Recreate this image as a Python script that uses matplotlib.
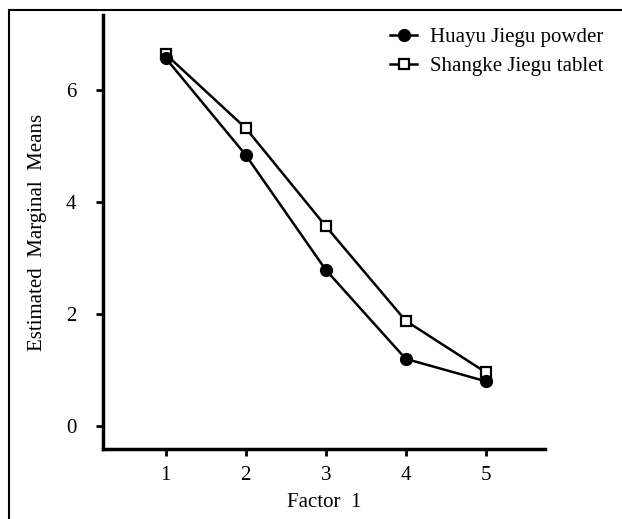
import matplotlib
matplotlib.use('Agg')
import matplotlib.pyplot as plt
from matplotlib.lines import Line2D

plt.rcParams['font.family'] = ['Liberation Serif', 'DejaVu Serif']

factor = [1, 2, 3, 4, 5]
huayu = [6.57, 4.84, 2.79, 1.20, 0.80]
shangke = [6.64, 5.32, 3.57, 1.88, 0.96]

fig = plt.figure(figsize=(6.22, 5.19), dpi=100)
ax = fig.add_axes([0.1656, 0.1349, 0.7104, 0.836])

ax.plot(factor, shangke, color='black', lw=1.8, marker='s', ms=7,
        mfc='white', mec='black', mew=1.6, label='Shangke Jiegu tablet', zorder=2)
ax.plot(factor, huayu, color='black', lw=1.8, marker='o', ms=8.5,
        mfc='black', mec='black', label='Huayu Jiegu powder', zorder=3)

ax.set_xlim(0.215, 5.74)
ax.set_ylim(-0.41, 7.34)
ax.set_xticks(factor)
ax.set_yticks([0, 2, 4, 6])
ax.set_xlabel('Factor  1', fontsize=15, labelpad=6)
ax.set_ylabel('Estimated  Marginal  Means', fontsize=15, labelpad=14)
ax.tick_params(labelsize=15, width=2, length=5, direction='out')
ax.tick_params(axis='y', pad=14)
ax.tick_params(axis='x', pad=7)

for s in ['top', 'right']:
    ax.spines[s].set_visible(False)
for s in ['left', 'bottom']:
    ax.spines[s].set_linewidth(2.5)

handles = [Line2D([], [], color='black', lw=1.8, marker='o', ms=8.5, mfc='black'),
           Line2D([], [], color='black', lw=1.8, marker='s', ms=7, mfc='white', mew=1.6)]
ax.legend(handles, ['Huayu Jiegu powder', 'Shangke Jiegu tablet'],
          loc='upper right', bbox_to_anchor=(1.16, 1.0), frameon=False,
          fontsize=15, handlelength=1.3, handletextpad=0.6, labelspacing=0.45,
          borderaxespad=0.2)

# frame edges of the original picture (left and top only)
fig.add_artist(Line2D([9/622, 9/622], [0, 1 - 10/519], transform=fig.transFigure, color='black', lw=1.5))
fig.add_artist(Line2D([9/622, 1], [1 - 10/519, 1 - 10/519], transform=fig.transFigure, color='black', lw=1.5))

fig.savefig('out.png', dpi=100)
